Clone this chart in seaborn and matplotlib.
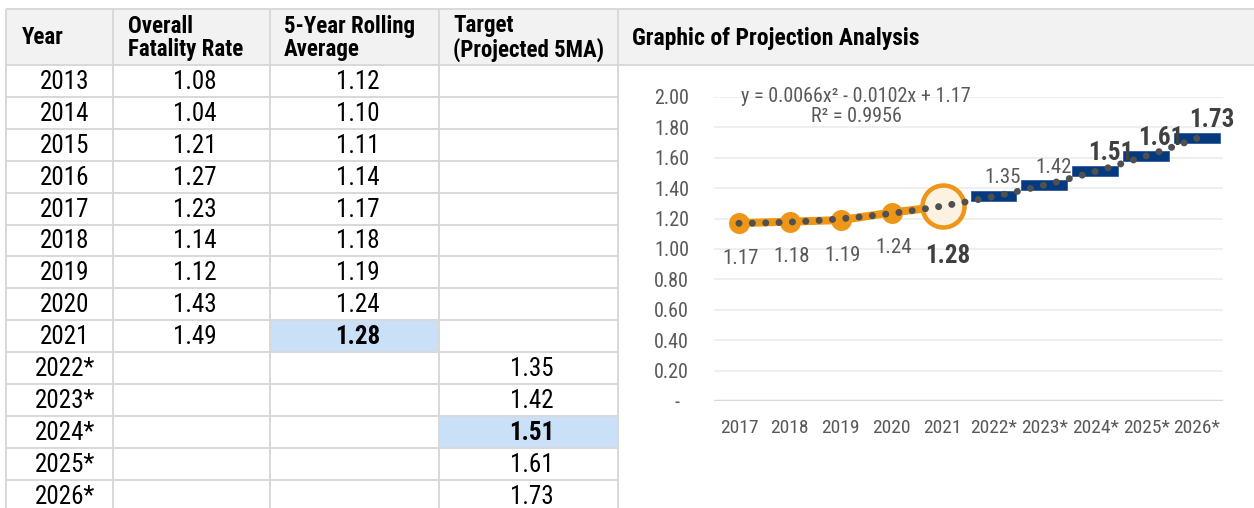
import numpy as np
import matplotlib
matplotlib.use("Agg")
import matplotlib.pyplot as plt
from matplotlib import font_manager as fm
import seaborn as sns
from matplotlib.patches import Rectangle

# ---------------- data ----------------
years = ["2013", "2014", "2015", "2016", "2017", "2018", "2019", "2020", "2021",
         "2022*", "2023*", "2024*", "2025*", "2026*"]
fatality_rate = [1.08, 1.04, 1.21, 1.27, 1.23, 1.14, 1.12, 1.43, 1.49]
rolling_avg = [1.12, 1.10, 1.11, 1.14, 1.17, 1.18, 1.19, 1.24, 1.28]
targets = [1.35, 1.42, 1.51, 1.61, 1.73]
header_labels = ["Year", "Overall\nFatality Rate", "5-Year Rolling\nAverage", "Target\n(Projected 5MA)"]
chart_title = "Graphic of Projection Analysis"
chart_years = years[4:]
chart_rolling = rolling_avg[4:]
equation_text = "y = 0.0066x\u00b2 - 0.0102x + 1.17"
r2_text = "R\u00b2 = 0.9956"
y_ticks = [0.0, 0.2, 0.4, 0.6, 0.8, 1.0, 1.2, 1.4, 1.6, 1.8, 2.0]
bold_targets = [False, False, True, True, True]

# ---------------- style ----------------
sns.set_theme(style="white")
available = {f.name for f in fm.fontManager.ttflist}
prefs = ["Liberation Sans Narrow", "Arial Narrow", "Roboto Condensed", "Archivo Narrow",
         "PT Sans Narrow", "IBM Plex Sans Condensed", "Fira Sans Condensed",
         "Open Sans Condensed", "DejaVu Sans Condensed"]
narrow = [p for p in prefs if p in available][:1]
plt.rcParams["font.family"] = narrow + ["Liberation Sans", "DejaVu Sans"]

W, H = 1254, 508
fig = plt.figure(figsize=(W / 100, H / 100), dpi=100)
fig.patch.set_facecolor("white")

ORANGE = "#EE9617"
NAVY = "#053B7E"
GRID = "#D9D9D9"
TXT = "#595959"
HL = "#CADFF8"

px = 0.72  # points per pixel

# ---------------- table (pixel-space axes) ----------------
bg = fig.add_axes([0, 0, 1, 1])
bg.set_xlim(0, W)
bg.set_ylim(H, 0)
bg.axis("off")

col_edges = [6, 113, 270, 439, 618]
top, head_bot, row_h = 9, 65, 31.9

bg.add_patch(Rectangle((col_edges[0], top), W - col_edges[0], head_bot - top,
                       fc="#F2F2F2", ec="none", zorder=0))

hl_cells = [(years.index("2021"), 2), (years.index("2024*"), 3)]
for r, c in hl_cells:
    bg.add_patch(Rectangle((col_edges[c], head_bot + r * row_h),
                           col_edges[c + 1] - col_edges[c], row_h,
                           fc=HL, ec="none", zorder=0))

lw_grid = 2 * px
bg.hlines([top, head_bot], col_edges[0], W, color=GRID, lw=lw_grid, zorder=1)
for i in range(1, len(years) + 1):
    bg.hlines(head_bot + i * row_h, col_edges[0], col_edges[-1], color=GRID, lw=lw_grid, zorder=1)
bg.vlines(col_edges, top, H, color=GRID, lw=lw_grid, zorder=1)

hdr_x = [22, col_edges[1] + 15, col_edges[2] + 14, col_edges[3] + 14]
for x, lab in zip(hdr_x, header_labels):
    bg.text(x, (top + head_bot) / 2 + 1, lab, ha="left", va="center", fontsize=16.5,
            fontweight="bold", color="black", linespacing=1.05)

bg.text(632, (top + head_bot) / 2 + 1, chart_title, ha="left", va="center",
        fontsize=17, fontweight="bold", color="black")

col_cent = [(col_edges[i] + col_edges[i + 1]) / 2 + 3 for i in range(4)]
FS_T = 18
for i, yr in enumerate(years):
    y = head_bot + (i + 0.5) * row_h + 1
    bg.text(col_cent[0] + 2, y, yr, ha="center", va="center", fontsize=FS_T, color="black")
    if i < len(fatality_rate):
        bg.text(col_cent[1], y, f"{fatality_rate[i]:.2f}", ha="center", va="center",
                fontsize=FS_T, color="black")
    if i < len(rolling_avg):
        b = (i, 2) in hl_cells
        bg.text(col_cent[2], y, f"{rolling_avg[i]:.2f}", ha="center", va="center",
                fontsize=FS_T, color="black", fontweight="bold" if b else "normal")
    j = i - len(rolling_avg)
    if 0 <= j < len(targets):
        b = (i, 3) in hl_cells
        bg.text(col_cent[3], y, f"{targets[j]:.2f}", ha="center", va="center",
                fontsize=FS_T, color="black", fontweight="bold" if b else "normal")

# ---------------- chart ----------------
ax_l, ax_r, ax_b, ax_t = 713.5, 1222.5, 401, 97
ax = fig.add_axes([ax_l / W, (H - ax_b) / H, (ax_r - ax_l) / W, (ax_b - ax_t) / H])
ax.patch.set_alpha(0)

n_hist = len(chart_rolling)
x_all = np.arange(len(chart_years))
x_hist = x_all[:n_hist]
x_tgt = x_all[n_hist:]

bar_h = 0.066
ax.bar(x_tgt, [bar_h] * len(targets), bottom=np.array(targets) - bar_h / 2,
       width=0.9, color=NAVY, edgecolor="#2E5C9E", linewidth=0.6, zorder=2)

sns.lineplot(x=x_hist, y=chart_rolling, ax=ax, color=ORANGE, lw=8 * px,
             marker="o", markersize=21 * px, markeredgewidth=0, zorder=3)
ax.plot(x_hist[-1:], chart_rolling[-1:], marker="o", ls="none", markersize=42 * px,
        markerfacecolor="#FDF1E2", markeredgecolor=ORANGE, markeredgewidth=4.5 * px, zorder=3.5)

all_vals = list(chart_rolling) + list(targets)
sns.regplot(x=x_all, y=all_vals, order=2, ci=None, scatter=False, truncate=True, ax=ax,
            line_kws=dict(color="#505050", lw=7 * px, linestyle=(0, (0.01, 1.9)),
                          dash_capstyle="round", zorder=5))

for xi, v in zip(x_hist[:-1], chart_rolling[:-1]):
    ax.annotate(f"{v:.2f}", (xi, v), xytext=(1.5 * px, -35 * px), textcoords="offset points",
                ha="center", va="center", fontsize=15, color=TXT, zorder=6)
ax.annotate(f"{chart_rolling[-1]:.2f}", (x_hist[-1], chart_rolling[-1]),
            xytext=(5 * px, -50 * px), textcoords="offset points",
            ha="center", va="center", fontsize=18, fontweight="bold", color="#404040", zorder=6)
for xi, v, b in zip(x_tgt, targets, bold_targets):
    ax.annotate(f"{v:.2f}", (xi, v), xytext=((15 if b else 9) * px, 18 * px),
                textcoords="offset points", ha="center", va="center",
                fontsize=18 if b else 15, fontweight="bold" if b else "normal",
                color="#404040" if b else TXT, zorder=6)

ax.text(2.3, 2.0, equation_text, ha="center", va="center", fontsize=14.5, color=TXT)
ax.text(2.3, 1.87, r2_text, ha="center", va="center", fontsize=14.5, color=TXT)

ax.set_xlim(-0.5, len(chart_years) - 0.5)
ax.set_ylim(0, 2.0)
ax.set_xticks(x_all)
ax.set_xticklabels(chart_years)
ax.set_yticks(y_ticks)
ax.set_yticklabels(["-  " if v == 0 else f"{v:.2f}" for v in y_ticks])
ax.tick_params(axis="x", length=0, labelsize=14, labelcolor=TXT, pad=13)
ax.tick_params(axis="y", length=0, labelsize=14.5, labelcolor=TXT, pad=17.5)
ax.yaxis.grid(True, color="#EFEFEF", lw=2 * px)
ax.set_axisbelow(True)
ax.axhline(0, color=GRID, lw=2.5 * px, zorder=1)
for s in ax.spines.values():
    s.set_visible(False)
ax.set_xlabel("")
ax.set_ylabel("")

fig.savefig("out.png", dpi=100, facecolor="white")
